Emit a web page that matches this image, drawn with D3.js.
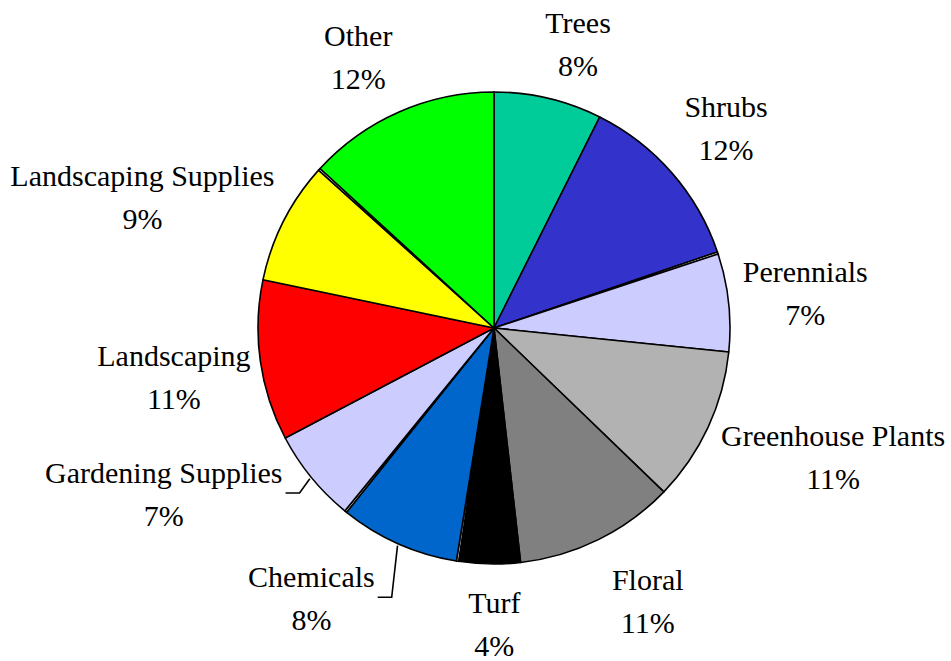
<!DOCTYPE html>
<html>
<head>
<meta charset="utf-8">
<script src="https://cdn.jsdelivr.net/npm/d3@7"></script>
<style>
  body { margin: 0; background: #fff; }
  text { font-family: "Liberation Serif", "Times New Roman", serif; font-size: 30px; fill: #000; }
</style>
</head>
<body>
<svg id="chart" width="951" height="661"></svg>
<script>
// slices, clockwise from 12 o'clock ("" = hairline gap slices)
const categories = ["Trees", "Shrubs", "", "Perennials", "Greenhouse Plants", "Floral", "Turf", "",
  "Chemicals", "", "Gardening Supplies", "Landscaping", "Landscaping Supplies", "", "Other"]
const values = [7.4, 12.4, 0.15, 6.7, 10.6, 11.0, 4.2, 0.15, 8.2, 0.15, 6.4, 11.0, 8.4, 0.15, 13.2]
const labels = ["8%", "12%", "", "7%", "11%", "11%", "4%", "", "8%", "", "7%", "11%", "9%", "", "12%"]
const colors = ["#00cc99", "#3333cc", "#ffffff", "#ccccff", "#b2b2b2", "#808080", "#000000", "#ffffff",
  "#0066cc", "#ffffff", "#ccccff", "#ff0000", "#ffff00", "#ffffff", "#00ff00"]

// label nudges from the default spot on the label ring
const nudge = {
  "Trees": [15, 9], "Shrubs": [6, -2], "Perennials": [13, -2], "Greenhouse Plants": [67, 4],
  "Floral": [21, 5], "Turf": [6, -3], "Chemicals": [-61, -3], "Gardening Supplies": [-98, -23],
  "Landscaping": [-23, 8], "Landscaping Supplies": [-84, 6], "Other": [-15, 5]
}
const leaders = ["Chemicals", "Gardening Supplies"]

const cx = 494, cy = 328, r = 236, labelR = 300

const svg = d3.select('#chart')
const g = svg.append('g').attr('transform', `translate(${cx},${cy})`)

const data = categories.map((c, i) => ({ name: c, value: values[i], label: labels[i], color: colors[i] }))

const pie = d3.pie().sort(null).value(d => d.value)
const arcs = pie(data)

const arc = d3.arc().innerRadius(0).outerRadius(r)

g.selectAll('path.slice')
  .data(arcs)
  .enter()
  .append('path')
    .attr('class', 'slice')
    .attr('d', arc)
    .attr('fill', d => d.data.color)
    .attr('stroke', '#000')
    .attr('stroke-width', 1.6)
    .attr('stroke-linejoin', 'round')

const mid = d => (d.startAngle + d.endAngle) / 2

const named = arcs.filter(d => d.data.name)

const lab = g.selectAll('g.label')
  .data(named)
  .enter()
  .append('g')
    .attr('class', 'label')
    .attr('transform', d => {
      const a = mid(d), n = nudge[d.data.name]
      return `translate(${labelR * Math.sin(a) + n[0]},${-labelR * Math.cos(a) + n[1]})`
    })

lab.append('text')
  .attr('text-anchor', 'middle')
  .attr('y', -12)
  .text(d => d.data.name)

lab.append('text')
  .attr('text-anchor', 'middle')
  .attr('y', 31)
  .text(d => d.data.label)

// leader lines for the moved labels
named.filter(d => leaders.includes(d.data.name)).forEach(d => {
  const a = mid(d), n = nudge[d.data.name]
  const lx = labelR * Math.sin(a) + n[0], ly = -labelR * Math.cos(a) + n[1]
  const node = lab.filter(e => e === d).select('text').node()
  const w = node.getComputedTextLength()
  const x0 = lx + w / 2 + 3, y0 = ly - 2
  const pts = [[x0, y0], [x0 + 14, y0], [(r + 2) * Math.sin(a), -(r + 2) * Math.cos(a)]]
  g.append('path')
    .attr('d', d3.line()(pts))
    .attr('fill', 'none')
    .attr('stroke', '#000')
    .attr('stroke-width', 1.6)
})
</script>
</body>
</html>
